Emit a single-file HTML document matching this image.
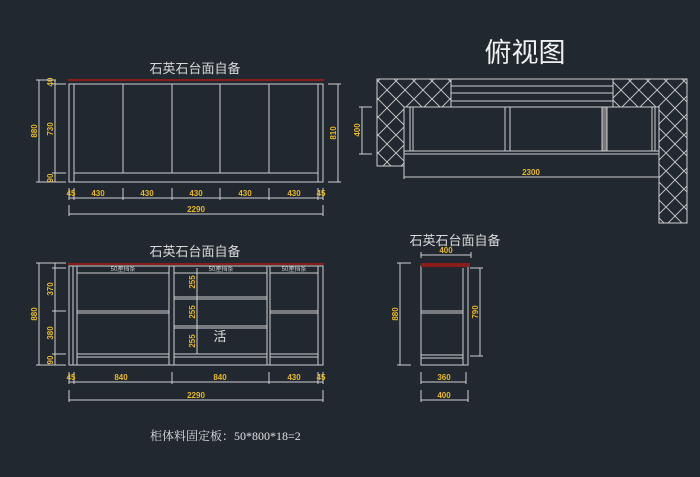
<!DOCTYPE html>
<html><head><meta charset="utf-8"><style>
html,body{margin:0;padding:0;background:#212830;}
svg{display:block}
text{font-family:"Liberation Sans","Noto Sans CJK SC",sans-serif;}
.d{fill:#e8b820;font-size:8px;font-weight:bold}
.t{fill:#d8d8d8;font-size:13px}
</style></head><body>
<svg width="700" height="477" viewBox="0 0 700 477" xmlns="http://www.w3.org/2000/svg">
<defs>
<pattern id="hb" width="18" height="18" patternUnits="userSpaceOnUse">
<path d="M0 9 L9 0 M9 18 L18 9 M0 9 L9 18 M9 0 L18 9" stroke="#c8c8c8" stroke-width="0.9" fill="none"/>
</pattern>
</defs>
<rect width="700" height="477" fill="#212830"/>
<g stroke="#cfcfcf" stroke-width="1" fill="none">
<line x1="68" y1="80" x2="324" y2="80" stroke="#8a1c1c" stroke-width="2"/>
<rect x="69" y="84" width="254" height="98"/>
<line x1="74" y1="84" x2="74" y2="182"/><line x1="318" y1="84" x2="318" y2="182"/>
<line x1="123" y1="84" x2="123" y2="173"/><line x1="172" y1="84" x2="172" y2="173"/>
<line x1="220" y1="84" x2="220" y2="173"/><line x1="269" y1="84" x2="269" y2="173"/>
<line x1="74" y1="173" x2="318" y2="173"/>
<line x1="39" y1="80" x2="39" y2="182"/><line x1="36" y1="80" x2="56" y2="80"/><line x1="36" y1="182" x2="66" y2="182"/>
<line x1="55" y1="80" x2="55" y2="182"/><line x1="52" y1="84" x2="66" y2="84"/><line x1="52" y1="173" x2="66" y2="173"/>
<line x1="338" y1="84" x2="338" y2="182"/><line x1="328" y1="84" x2="341" y2="84"/><line x1="328" y1="182" x2="341" y2="182"/>
<line x1="69" y1="198" x2="323" y2="198"/>
<path d="M69 188V200M74 188V200M123 188V200M172 188V200M220 188V200M269 188V200M318 188V200M323 188V200"/>
<line x1="69" y1="214" x2="323" y2="214"/><path d="M69 205V216M323 205V216"/>
<line x1="68" y1="264" x2="324" y2="264" stroke="#8a1c1c" stroke-width="2"/>
<rect x="69" y="266" width="254" height="99"/>
<path d="M73 266V365M77 266V365M169 266V365M174 266V365M267 266V365M270 266V365M318 266V365"/>
<path d="M77 273H169M174 273H267M270 273H318"/>
<path d="M77 311H169M77 313H169M270 311H318M270 313H318"/>
<path d="M174 297H267M174 299H267M174 326H267M174 328H267"/>
<path d="M77 354H169M77 357H169M174 354H267M174 357H267M270 354H318M270 357H318"/>
<line x1="39" y1="263" x2="39" y2="365"/><path d="M36 263H66M36 365H66"/>
<line x1="55" y1="263" x2="55" y2="365"/><path d="M52 311H66M52 354H66M52 268H66"/>
<line x1="197" y1="268" x2="197" y2="354"/>
<line x1="69" y1="382" x2="323" y2="382"/>
<path d="M69 372V384M74 372V384M172 372V384M269 372V384M318 372V384M323 372V384"/>
<line x1="69" y1="400" x2="323" y2="400"/><path d="M69 390V402M323 390V402"/>
<path d="M377 79H451V107H404V166H377Z" fill="url(#hb)"/>
<path d="M613 79H687V223H659V107H613Z" fill="url(#hb)"/>
<path d="M451 79H613M451 86H613M451 93H613M451 101H613M451 107H613"/>
<rect x="404" y="107" width="255" height="47"/>
<line x1="404" y1="151" x2="659" y2="151"/>
<path d="M410 107V151M413 107V151M505 107V151M510 107V151M652 107V151M655 107V151"/>
<rect x="602" y="107" width="5" height="44" fill="#777"/>
<line x1="404" y1="177" x2="659" y2="177"/><path d="M404 154V179M659 154V179"/>
<line x1="362" y1="107" x2="362" y2="154"/><path d="M359 107H372M359 154H372"/>
<rect x="421" y="266" width="47" height="99"/>
<rect x="421" y="263" width="49" height="4" fill="#8a1c1c" stroke="none"/>
<path d="M463 268V365M421 311H463M421 313H463M421 355H463M421 358H463"/>
<line x1="400" y1="263" x2="400" y2="365"/><path d="M397 263H411M397 365H411"/>
<line x1="480" y1="268" x2="480" y2="356"/><path d="M470 268H483M470 356H483"/>
<line x1="421" y1="255" x2="471" y2="255"/><path d="M421 252V258M471 252V258"/>
<line x1="421" y1="382" x2="466" y2="382"/><path d="M421 372V384M466 372V384"/>
<line x1="421" y1="400" x2="468" y2="400"/><path d="M421 390V402M468 390V402"/>
</g>
<text x="195" y="73" class="t" text-anchor="middle">石英石台面自备</text>
<text x="195" y="256" class="t" text-anchor="middle">石英石台面自备</text>
<text x="455" y="245" class="t" text-anchor="middle">石英石台面自备</text>
<text x="525" y="62" fill="#f0f0f0" font-size="27" text-anchor="middle">俯视图</text>
<text x="150" y="440" fill="#e0e0e0" font-size="12" style="font-family:'Liberation Serif','Noto Serif CJK SC',serif">柜体料固定板：50*800*18=2</text>
<text x="220" y="341" fill="#e0e0e0" font-size="13" text-anchor="middle">活</text>
<g fill="#cfcfcf" font-size="6" text-anchor="middle">
<text x="123" y="271">50厘挡条</text><text x="221" y="271">50厘挡条</text><text x="294" y="271">50厘挡条</text>
</g>
<g class="d" text-anchor="middle">
<text x="98" y="196">430</text><text x="147" y="196">430</text><text x="196" y="196">430</text><text x="245" y="196">430</text><text x="294" y="196">430</text>
<text x="71" y="196">45</text><text x="321" y="196">45</text>
<text x="196" y="212">2290</text>
<text x="121" y="380">840</text><text x="220" y="380">840</text><text x="294" y="380">430</text>
<text x="71" y="380">45</text><text x="321" y="380">45</text><text x="196" y="398">2290</text>
<text x="531" y="175">2300</text>
<text x="446" y="253">400</text><text x="444" y="380">360</text><text x="444" y="398">400</text>
<text transform="translate(53,82) rotate(-90)">40</text>
<text transform="translate(53,129) rotate(-90)">730</text>
<text transform="translate(53,178) rotate(-90)">90</text>
<text transform="translate(37,131) rotate(-90)">880</text>
<text transform="translate(336,133) rotate(-90)">810</text>
<text transform="translate(37,314) rotate(-90)">880</text>
<text transform="translate(53,289) rotate(-90)">370</text>
<text transform="translate(53,333) rotate(-90)">380</text>
<text transform="translate(53,360) rotate(-90)">90</text>
<text transform="translate(195,282) rotate(-90)">255</text>
<text transform="translate(195,312) rotate(-90)">255</text>
<text transform="translate(195,341) rotate(-90)">255</text>
<text transform="translate(360,130) rotate(-90)">400</text>
<text transform="translate(398,314) rotate(-90)">880</text>
<text transform="translate(478,312) rotate(-90)">790</text>
</g>
</svg>
</body></html>
